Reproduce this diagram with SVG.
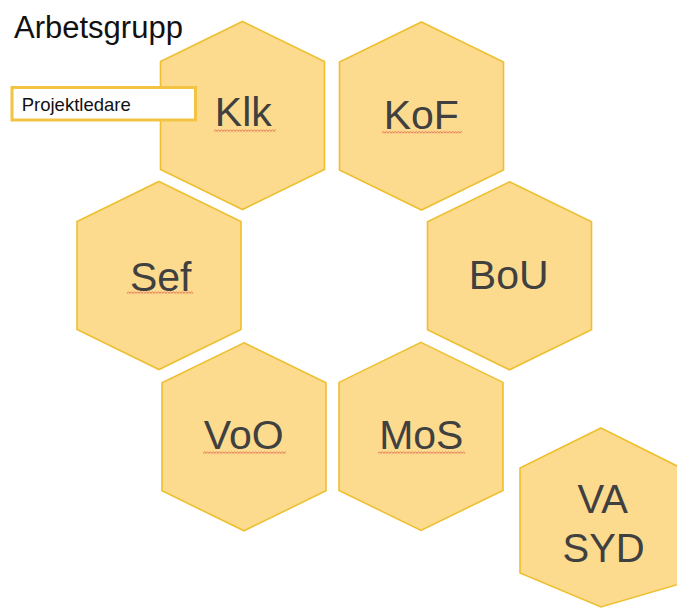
<svg xmlns="http://www.w3.org/2000/svg" xmlns:xlink="http://www.w3.org/1999/xlink" width="677" height="609" viewBox="0 0 677 609">
<style>
.hex{fill:#FCDB8F;stroke:#EEBF30;stroke-width:1.6}
.lbl{font-family:"Liberation Sans",Arial,sans-serif;font-size:41px;fill:#404040;text-anchor:middle}
.sq{fill:url(#sq)}
</style>
<defs>
<polygon id="hexshape" points="0,-94 82,-54 82,54 0,94 -82,54 -82,-54"/>
<pattern id="sq" width="3" height="3" patternUnits="userSpaceOnUse">
<path d="M0,2.2 L1.5,0.8 L3,2.2" fill="none" stroke="#D8453A" stroke-width="0.8"/>
</pattern>
</defs>
<rect width="677" height="609" fill="#FFFFFF"/>
<g id="connectors"/>
<g id="node-klk">
<use xlink:href="#hexshape" class="hex" x="242.5" y="115.5"/>
<text class="lbl" x="243.3" y="125.5">Klk</text>
<rect class="sq" transform="translate(214,129.2)" width="62" height="3"/>
</g>
<g id="node-kof">
<use xlink:href="#hexshape" class="hex" x="421.5" y="116"/>
<text class="lbl" x="421.3" y="129.3">KoF</text>
<rect class="sq" transform="translate(382,130.8)" width="80" height="3"/>
</g>
<g id="node-sef">
<use xlink:href="#hexshape" class="hex" x="159" y="275.5"/>
<text class="lbl" x="160.7" y="290.7">Sef</text>
<rect class="sq" transform="translate(127,291.2)" width="66" height="3"/>
</g>
<g id="node-bou">
<use xlink:href="#hexshape" class="hex" x="509.5" y="275.8"/>
<text class="lbl" x="508.7" y="289.3">BoU</text>
</g>
<g id="node-voo">
<use xlink:href="#hexshape" class="hex" x="244" y="436.8"/>
<text class="lbl" x="243.7" y="449.3">VoO</text>
<rect class="sq" transform="translate(203,451.2)" width="83" height="3"/>
</g>
<g id="node-mos">
<use xlink:href="#hexshape" class="hex" x="421" y="436.4"/>
<text class="lbl" x="421.3" y="449.3">MoS</text>
<rect class="sq" transform="translate(378,451.2)" width="87" height="3"/>
</g>
<g id="node-vasyd">
<polygon class="hex" points="601,428 683,469 683,583 601,607 520,573 520,468"/>
<text class="lbl" style="font-size:40px" x="602.8" y="512.7">VA</text>
<text class="lbl" style="font-size:40px" x="603.6" y="561.7">SYD</text>
</g>
<g id="node-projektledare">
<rect x="12" y="87.5" width="183.5" height="32.5" fill="#FFFFFF" stroke="#F3C443" stroke-width="3"/>
<text x="21.7" y="111" font-family="Liberation Sans, Arial, sans-serif" font-size="18.5" fill="#111111">Projektledare</text>
</g>
<g id="title">
<text x="14" y="37.5" font-family="Liberation Sans, Arial, sans-serif" font-size="31" fill="#111111">Arbetsgrupp</text>
</g>
</svg>
